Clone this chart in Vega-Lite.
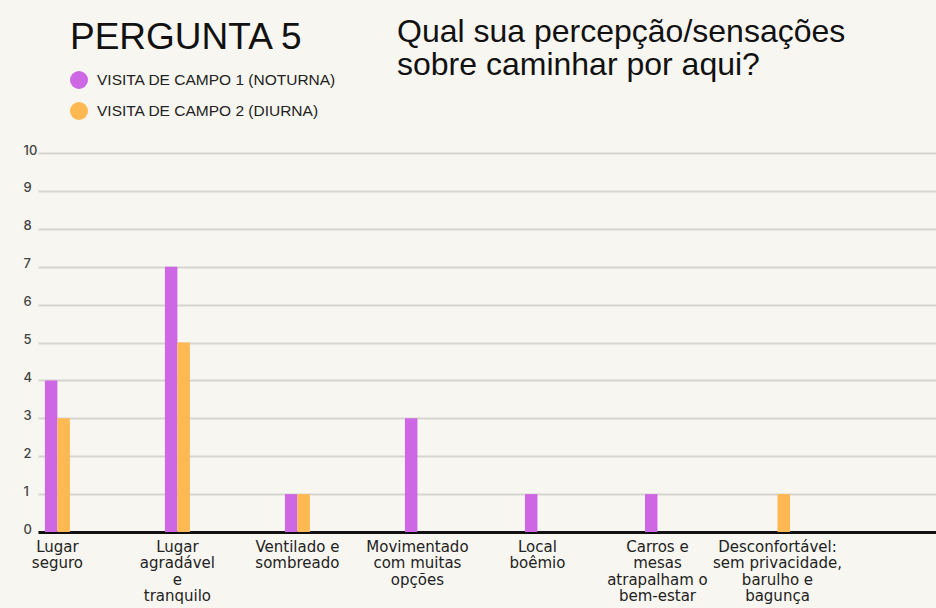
{
  "$schema": "https://vega.github.io/schema/vega-lite/v6.json",
  "width": 898,
  "height": 379,
  "autosize": {"type": "none"},
  "padding": {"left": 38, "top": 153, "right": 0, "bottom": 76},
  "background": "#f8f6f1",
  "title": {
    "text": ["Qual sua percepção/sensações", "sobre caminhar por aqui?"],
    "anchor": "start",
    "frame": "group",
    "orient": "top",
    "dx": 359,
    "dy": 62,
    "offset": 0,
    "font": "Liberation Sans",
    "fontSize": 32,
    "fontWeight": "normal",
    "lineHeight": 33,
    "color": "#111111"
  },
  "data": {
    "values": [
      {"categoria": "Lugar\nseguro", "visita": "VISITA DE CAMPO 1 (NOTURNA)", "contagem": 4},
      {"categoria": "Lugar\nseguro", "visita": "VISITA DE CAMPO 2 (DIURNA)", "contagem": 3},
      {"categoria": "Lugar\nagradável\ne\ntranquilo", "visita": "VISITA DE CAMPO 1 (NOTURNA)", "contagem": 7},
      {"categoria": "Lugar\nagradável\ne\ntranquilo", "visita": "VISITA DE CAMPO 2 (DIURNA)", "contagem": 5},
      {"categoria": "Ventilado e\nsombreado", "visita": "VISITA DE CAMPO 1 (NOTURNA)", "contagem": 1},
      {"categoria": "Ventilado e\nsombreado", "visita": "VISITA DE CAMPO 2 (DIURNA)", "contagem": 1},
      {"categoria": "Movimentado\ncom muitas\nopções", "visita": "VISITA DE CAMPO 1 (NOTURNA)", "contagem": 3},
      {"categoria": "Movimentado\ncom muitas\nopções", "visita": "VISITA DE CAMPO 2 (DIURNA)", "contagem": 0},
      {"categoria": "Local\nboêmio", "visita": "VISITA DE CAMPO 1 (NOTURNA)", "contagem": 1},
      {"categoria": "Local\nboêmio", "visita": "VISITA DE CAMPO 2 (DIURNA)", "contagem": 0},
      {"categoria": "Carros e\nmesas\natrapalham o\nbem-estar", "visita": "VISITA DE CAMPO 1 (NOTURNA)", "contagem": 1},
      {"categoria": "Carros e\nmesas\natrapalham o\nbem-estar", "visita": "VISITA DE CAMPO 2 (DIURNA)", "contagem": 0},
      {"categoria": "Desconfortável:\nsem privacidade,\nbarulho e\nbagunça", "visita": "VISITA DE CAMPO 1 (NOTURNA)", "contagem": 0},
      {"categoria": "Desconfortável:\nsem privacidade,\nbarulho e\nbagunça", "visita": "VISITA DE CAMPO 2 (DIURNA)", "contagem": 1}
    ]
  },
  "mark": {"type": "bar"},
  "encoding": {
    "x": {
      "field": "categoria",
      "type": "nominal",
      "sort": null,
      "scale": {"paddingInner": 0.7917, "paddingOuter": 0.637, "align": 0.045},
      "axis": {
        "title": null,
        "labelAngle": 0,
        "labelExpr": "split(datum.label, '\\n')",
        "labelFont": "DejaVu Sans",
        "labelFontSize": 15,
        "labelFontWeight": "normal",
        "labelLineHeight": 16.5,
        "labelColor": "#222222",
        "labelBaseline": "top",
        "labelPadding": 7,
        "labelLimit": 300,
        "ticks": false,
        "domainColor": "#111111",
        "domainWidth": 3,
        "grid": false
      }
    },
    "xOffset": {
      "field": "visita",
      "type": "nominal",
      "scale": {"domain": ["VISITA DE CAMPO 1 (NOTURNA)", "VISITA DE CAMPO 2 (DIURNA)"], "paddingInner": 0, "paddingOuter": 0}
    },
    "y": {
      "field": "contagem",
      "type": "quantitative",
      "scale": {"domain": [0, 10], "nice": false},
      "axis": {
        "title": null,
        "values": [0, 1, 2, 3, 4, 5, 6, 7, 8, 9, 10],
        "labelFont": "Inter",
        "labelFontSize": 13,
        "labelFontWeight": 500,
        "labelColor": "#444444",
        "labelAlign": "left",
        "labelBaseline": "alphabetic",
        "labelPadding": 15,
        "labelOffset": 1,
        "ticks": false,
        "domain": false,
        "grid": true,
        "gridColor": "#d6d4cf",
        "gridWidth": 2
      }
    },
    "color": {
      "field": "visita",
      "type": "nominal",
      "scale": {
        "domain": ["VISITA DE CAMPO 1 (NOTURNA)", "VISITA DE CAMPO 2 (DIURNA)"],
        "range": ["#cd67e3", "#ffb852"]
      },
      "legend": {
        "title": "PERGUNTA 5",
        "orient": "none",
        "legendX": 32,
        "legendY": -133,
        "titleFont": "Liberation Sans",
        "titleFontSize": 37,
        "titleFontWeight": "normal",
        "titleColor": "#111111",
        "titlePadding": 14,
        "titleLimit": 400,
        "symbolType": "circle",
        "symbolSize": 324,
        "symbolStrokeWidth": 0,
        "symbolOpacity": 1,
        "labelFont": "Liberation Sans",
        "labelFontSize": 15.5,
        "labelColor": "#222222",
        "labelOffset": 9,
        "labelLimit": 400,
        "rowPadding": 13
      }
    }
  },
  "config": {
    "view": {"stroke": null},
    "legend": {"symbolFillColor": null}
  }
}
